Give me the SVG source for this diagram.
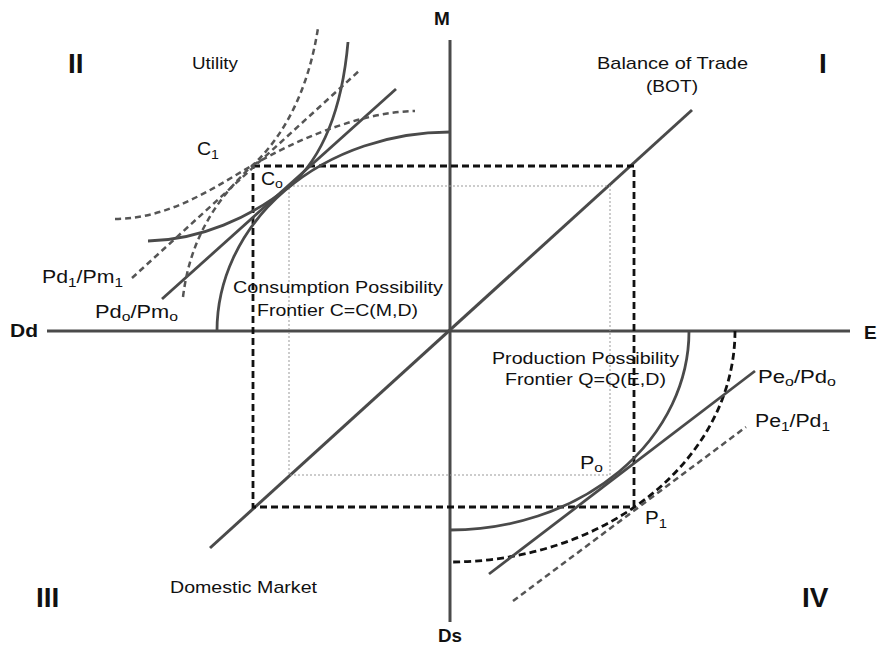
<svg xmlns="http://www.w3.org/2000/svg" width="880" height="646" viewBox="0 0 880 646">
<style>
.ax{stroke:#4a4a4a;stroke-width:3;fill:none}
.cv{stroke:#4a4a4a;stroke-width:2.8;fill:none}
.gd{stroke:#555;stroke-width:2.5;fill:none;stroke-dasharray:6 4}
.bd{stroke:#111;stroke-width:2.8;fill:none;stroke-dasharray:7 4}
.td{stroke:#999;stroke-width:1;fill:none;stroke-dasharray:2 2}
text{font-family:"Liberation Sans",Arial,sans-serif;fill:#111}
.lb{font-size:17px}
.sb{font-size:18px}
.bo{font-weight:bold;font-size:19px}
.q{font-weight:bold;font-size:28px}
</style>
<rect width="880" height="646" fill="#fff"/>
<g id="connectors">
<line class="ax" x1="47" y1="331" x2="850" y2="331"/>
<line class="ax" x1="450" y1="40" x2="450" y2="622"/>
<line class="ax" x1="210" y1="548" x2="692" y2="110"/>
<rect class="td" x="289" y="186" width="321" height="289"/>
<rect class="bd" x="253" y="166" width="381" height="341"/>
<path class="cv" d="M217 331 A233 199 0 0 1 450 132"/>
<path class="cv" d="M148 241 C200 240 250 218 290 186 C322 158 342 110 348 42"/>
<line class="cv" x1="162" y1="299" x2="396" y2="89"/>
<line class="gd" x1="132" y1="278" x2="360" y2="70"/>
<path class="gd" d="M115 219 C170 218 210 190 253 165 S360 112 415 111"/>
<path class="gd" d="M183 297 C190 240 215 200 253 165 C290 130 310 80 318 28"/>
<path class="cv" d="M689 331 A239 199 0 0 1 450 530"/>
<path class="bd" d="M735 331 A285 231 0 0 1 450 562"/>
<line class="cv" x1="489" y1="574" x2="755" y2="371"/>
<line class="gd" x1="513" y1="601" x2="746" y2="427"/>
</g>
<g id="labels">
<text class="q" x="68" y="73">II</text>
<text class="q" x="819" y="73">I</text>
<text class="q" x="36" y="607">III</text>
<text class="q" x="802" y="607">IV</text>
<text class="bo" x="434" y="25">M</text>
<text class="bo" x="10" y="337" textLength="28" lengthAdjust="spacingAndGlyphs">Dd</text>
<text class="bo" x="864" y="339">E</text>
<text class="bo" x="438" y="642" textLength="24" lengthAdjust="spacingAndGlyphs">Ds</text>
<text class="lb" x="192" y="69" textLength="46" lengthAdjust="spacingAndGlyphs">Utility</text>
<text class="lb" x="597" y="69" textLength="151" lengthAdjust="spacingAndGlyphs">Balance of Trade</text>
<text class="lb" x="646" y="92" textLength="52" lengthAdjust="spacingAndGlyphs">(BOT)</text>
<text class="sb" x="197" y="155" textLength="22" lengthAdjust="spacingAndGlyphs">C<tspan font-size="13" dy="4">1</tspan></text>
<text class="sb" x="261" y="185" textLength="22" lengthAdjust="spacingAndGlyphs">C<tspan font-size="13" dy="3">o</tspan></text>
<text class="lb" x="233" y="293" textLength="210" lengthAdjust="spacingAndGlyphs">Consumption Possibility</text>
<text class="lb" x="257" y="316" textLength="161" lengthAdjust="spacingAndGlyphs">Frontier C=C(M,D)</text>
<text class="sb" x="42" y="283" textLength="81" lengthAdjust="spacingAndGlyphs">Pd<tspan font-size="13" dy="4">1</tspan><tspan dy="-4">/Pm</tspan><tspan font-size="13" dy="4">1</tspan></text>
<text class="sb" x="95" y="318" textLength="83" lengthAdjust="spacingAndGlyphs">Pd<tspan font-size="13" dy="3">o</tspan><tspan dy="-3">/Pm</tspan><tspan font-size="13" dy="3">o</tspan></text>
<text class="lb" x="492" y="364" textLength="187" lengthAdjust="spacingAndGlyphs">Production Possibility</text>
<text class="lb" x="505" y="385" textLength="161" lengthAdjust="spacingAndGlyphs">Frontier Q=Q(E,D)</text>
<text class="sb" x="758" y="383" textLength="78" lengthAdjust="spacingAndGlyphs">Pe<tspan font-size="13" dy="3">o</tspan><tspan dy="-3">/Pd</tspan><tspan font-size="13" dy="3">o</tspan></text>
<text class="sb" x="755" y="427" textLength="75" lengthAdjust="spacingAndGlyphs">Pe<tspan font-size="13" dy="4">1</tspan><tspan dy="-4">/Pd</tspan><tspan font-size="13" dy="4">1</tspan></text>
<text class="sb" x="580" y="469" textLength="23" lengthAdjust="spacingAndGlyphs">P<tspan font-size="13" dy="3">o</tspan></text>
<text class="sb" x="645" y="524" textLength="22" lengthAdjust="spacingAndGlyphs">P<tspan font-size="13" dy="4">1</tspan></text>
<text class="lb" x="170" y="593" textLength="147" lengthAdjust="spacingAndGlyphs">Domestic Market</text>
</g>
</svg>
